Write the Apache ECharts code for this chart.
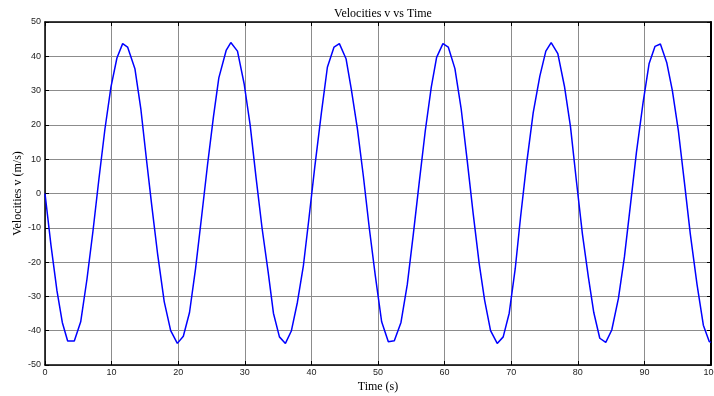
<!DOCTYPE html>
<html>
<head>
<meta charset="utf-8">
<script src="https://cdn.jsdelivr.net/npm/echarts@6/dist/echarts.min.js"></script>
<style>html,body{margin:0;padding:0;background:#fff}#c{width:714px;height:396px}</style>
</head>
<body>
<div id="c"></div>
<script>
var titleText = "Velocities v vs Time";
var xName = "Time (s)";
var yName = "Velocities v (m/s)";
var timeS = [0,0.9,1.8,2.6,3.4,4.4,5.36,6.3,7.2,8.1,9.0,9.9,10.8,11.66,12.4,13.5,14.4,15.2,16.0,
 16.9,17.9,18.87,19.87,20.77,21.7,22.6,23.5,24.4,25.3,26.1,27.2,27.9,28.9,29.9,30.8,31.7,
 32.6,33.5,34.3,35.2,36.1,37.0,37.9,38.8,39.6,40.5,41.5,42.4,43.4,44.2,45.2,46.0,46.9,47.8,
 48.7,49.6,50.55,51.55,52.45,53.45,54.4,55.3,56.2,57.1,58.0,58.8,59.75,60.55,61.55,62.5,63.4,
 64.3,65.2,66.0,66.9,67.9,68.8,69.7,70.6,71.4,72.3,73.3,74.3,75.2,76.0,77.0,78.0,78.9,79.8,
 80.7,81.6,82.4,83.3,84.2,85.1,86.1,87.0,87.9,88.8,89.8,90.7,91.6,92.4,93.35,94.2,95.1,96.0,
 96.9,97.9,98.85,99.75,100];
var velocity = [0,-15.1,-28.4,-37.6,-43.0,-43.0,-37.4,-25.0,-11.0,4.3,18.8,31.0,39.5,43.7,42.7,36.4,24.5,10.5,-3.0,
 -17.5,-31.5,-40.0,-43.7,-41.6,-34.7,-22.0,-7.0,8.3,22.5,33.7,41.7,44.0,41.5,32.0,20.0,4.5,
 -10.2,-22.8,-34.9,-41.8,-43.7,-40.0,-31.7,-21.0,-7.8,7.6,23.5,36.8,42.7,43.7,39.3,30.3,19.0,5.1,
 -10.2,-24.0,-37.4,-43.2,-42.9,-37.6,-26.5,-11.9,3.4,18.3,31.0,39.7,43.7,42.7,36.4,24.5,9.5,
 -6.0,-20.5,-31.0,-40.0,-43.7,-41.8,-34.9,-22.0,-7.0,8.5,23.5,34.2,41.5,44.0,40.8,31.2,19.5,3.5,
 -11.9,-24.5,-34.7,-42.2,-43.4,-39.8,-30.6,-18.5,-3.4,11.9,26.5,37.8,42.9,43.6,38.2,30.0,18.3,3.4,
 -11.9,-26.5,-38.4,-43.2,-43.4];
var xMin = 0, xMax = 100, xStep = 10;
var yMin = -50, yMax = 50, yStep = 10;

var pts = timeS.map(function(t, i){ return [t, velocity[i]]; });
var serif = "'Liberation Serif','Times New Roman',serif";
var sans = "'Liberation Sans',Arial,sans-serif";
var gridLine = {show:true, lineStyle:{color:'#8c8c8c', type:'solid', width:1}};
var chart = echarts.init(document.getElementById('c'), null, {renderer:'canvas'});
chart.setOption({
  animation:false,
  backgroundColor:'#fff',
  title:{text:titleText, left:378, top:3, textAlign:'center',
    textStyle:{fontFamily:serif, fontSize:12, fontWeight:'normal', color:'#000'}},
  grid:{left:45, right:3, top:22, bottom:31, containLabel:false, outerBoundsMode:'none'},
  xAxis:[{type:'value', min:xMin, max:xMax, interval:xStep, position:'bottom',
    name:xName, nameLocation:'middle', nameGap:16, nameMoveOverlap:false,
    nameTextStyle:{fontFamily:serif, fontSize:12, color:'#000'},
    axisLine:{show:true, onZero:false, lineStyle:{color:'#000', width:1.5}},
    axisTick:{show:true, inside:true, length:4, lineStyle:{color:'#000'}},
    axisLabel:{fontFamily:sans, fontSize:9, color:'#222', margin:3},
    splitLine:gridLine},
   {type:'value', min:xMin, max:xMax, interval:xStep, position:'top',
    axisLine:{show:true, onZero:false, lineStyle:{color:'#000', width:1.5}},
    axisTick:{show:true, inside:true, length:4, lineStyle:{color:'#000'}},
    axisLabel:{show:false}, splitLine:{show:false}}],
  yAxis:[{type:'value', min:yMin, max:yMax, interval:yStep, position:'left',
    name:yName, nameLocation:'middle', nameGap:21, nameRotate:90, nameMoveOverlap:false,
    nameTextStyle:{fontFamily:serif, fontSize:12, color:'#000'},
    axisLine:{show:true, onZero:false, lineStyle:{color:'#000', width:1.5}},
    axisTick:{show:true, inside:true, length:4, lineStyle:{color:'#000'}},
    axisLabel:{fontFamily:sans, fontSize:9, color:'#222', margin:4},
    splitLine:gridLine},
   {type:'value', min:yMin, max:yMax, interval:yStep, position:'right',
    axisLine:{show:true, onZero:false, lineStyle:{color:'#000', width:2}},
    axisTick:{show:true, inside:true, length:4, lineStyle:{color:'#000'}},
    axisLabel:{show:false}, splitLine:{show:false}}],
  series:[{type:'line', data:pts, xAxisIndex:0, yAxisIndex:0, showSymbol:false, symbol:'none',
    lineStyle:{color:'#0000ff', width:1.5}, smooth:false}]
});
</script>
</body>
</html>
